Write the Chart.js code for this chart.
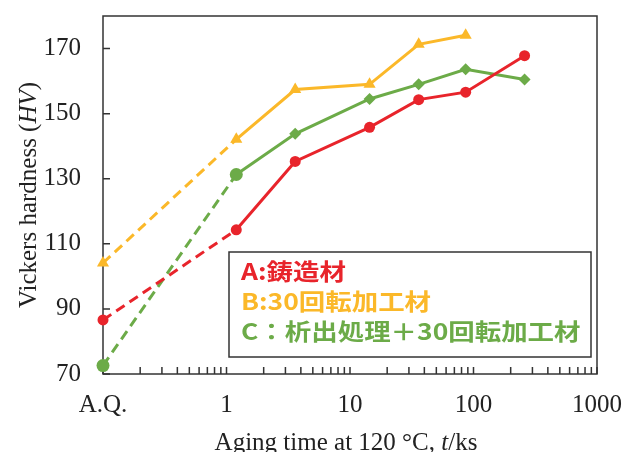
<!DOCTYPE html>
<html>
<head>
<meta charset="utf-8">
<script src="https://cdn.jsdelivr.net/npm/chart.js@4/dist/chart.umd.min.js"></script>
<style>
  html, body { margin: 0; padding: 0; background: #fff; overflow: hidden; }
</style>
</head>
<body>
<canvas id="hv" width="622" height="452"></canvas>
<script>
// aging time in ks; 0.1 is where the as-quenched (A.Q.) state is plotted
const agingTimes = [0.1, 1.2, 3.6, 14.4, 36, 86.4, 259.2];
const hvCast = [86.6, 114.3, 135.3, 145.8, 154.3, 156.6, 167.8];
const hvRotary = [104.1, 142.1, 157.4, 159.0, 171.3, 174.1];
const hvAgedRotary = [72.6, 131.3, 143.8, 154.5, 159.0, 163.6, 160.5];

const seriesNames = ['A:鋳造材', 'B:30回転加工材', 'C：析出処理＋30回転加工材'];
const seriesColors = ['#e8242b', '#fbb829', '#6cab48'];

const xTickValues = [0.1, 0.2, 0.3, 0.4, 0.5, 0.6, 0.7, 0.8, 0.9,
  1, 2, 3, 4, 5, 6, 7, 8, 9,
  10, 20, 30, 40, 50, 60, 70, 80, 90,
  100, 200, 300, 400, 500, 600, 700, 800, 900, 1000];
const xLabelValues = [0.1, 1, 10, 100, 1000];
const xLabelTexts = ['A.Q.', '1', '10', '100', '1000'];
const yLabelValues = [70, 90, 110, 130, 150, 170];

const serif = "'Liberation Serif', 'Times New Roman', serif";
const toPoints = vals => vals.map((v, i) => ({ x: agingTimes[i], y: v }));
// A.Q. -> first aging step is drawn dashed
const dashFirst = { borderDash: c => c.p0DataIndex === 0 ? [10, 6] : undefined };

// frame and inward ticks
const framePlugin = {
  id: 'frame',
  beforeDatasetsDraw(chart) {
    const { ctx, chartArea: a, scales: { x, y } } = chart;
    ctx.save();
    ctx.strokeStyle = '#333';
    ctx.lineWidth = 1.5;
    ctx.strokeRect(a.left, a.top, a.right - a.left, a.bottom - a.top);
    ctx.beginPath();
    y.ticks.forEach(t => {
      const py = y.getPixelForValue(t.value);
      ctx.moveTo(a.left, py);
      ctx.lineTo(a.left + 7, py);
    });
    x.ticks.forEach(t => {
      const px = x.getPixelForValue(t.value);
      ctx.moveTo(px, a.bottom);
      ctx.lineTo(px, a.bottom - 7);
    });
    ctx.stroke();
    ctx.restore();
  }
};

// draws text made of runs with different font styles
function drawRuns(ctx, runs, size, cx, cy) {
  const widths = runs.map(r => {
    ctx.font = (r.italic ? 'italic ' : '') + size + 'px ' + serif;
    return ctx.measureText(r.text).width;
  });
  let pos = cx - widths.reduce((s, w) => s + w, 0) / 2;
  runs.forEach((r, i) => {
    ctx.font = (r.italic ? 'italic ' : '') + size + 'px ' + serif;
    ctx.fillText(r.text, pos, cy);
    pos += widths[i];
  });
}

const titlesPlugin = {
  id: 'titles',
  afterDraw(chart) {
    const { ctx } = chart;
    ctx.save();
    ctx.fillStyle = '#222';
    ctx.textAlign = 'left';
    ctx.textBaseline = 'alphabetic';
    drawRuns(ctx, [{ text: 'Aging time at 120 °C, ' }, { text: 't', italic: true }, { text: '/ks' }], 25, 346, 450);
    ctx.translate(36, 195);
    ctx.rotate(-Math.PI / 2);
    drawRuns(ctx, [{ text: 'Vickers hardness (' }, { text: 'HV', italic: true }, { text: ')' }], 25, 0, 0);
    ctx.restore();
  }
};

const legendPlugin = {
  id: 'boxLegend',
  afterDatasetsDraw(chart) {
    const { ctx } = chart;
    ctx.save();
    ctx.fillStyle = '#fff';
    ctx.fillRect(229, 252, 362, 105);
    ctx.strokeStyle = '#333';
    ctx.lineWidth = 1.5;
    ctx.strokeRect(229, 252, 362, 105);
    ctx.font = "bold 23px 'Noto Sans CJK JP', sans-serif";
    ctx.textBaseline = 'alphabetic';
    const baselines = [280, 310, 340];
    seriesNames.forEach((name, i) => {
      ctx.save();
      ctx.translate(241, baselines[i]);
      ctx.scale(1.15, 1);
      ctx.fillStyle = seriesColors[i];
      ctx.fillText(name, 0, 0);
      ctx.restore();
    });
    ctx.restore();
  }
};

new Chart(document.getElementById('hv'), {
  type: 'line',
  data: {
    datasets: [
      {
        label: seriesNames[0],
        data: toPoints(hvCast),
        borderColor: seriesColors[0],
        backgroundColor: seriesColors[0],
        borderWidth: 3,
        pointStyle: 'circle',
        pointRadius: 5.5,
        pointBorderWidth: 0,
        segment: dashFirst,
        clip: false,
      },
      {
        label: seriesNames[1],
        data: toPoints(hvRotary),
        borderColor: seriesColors[1],
        backgroundColor: seriesColors[1],
        borderWidth: 3,
        pointStyle: 'triangle',
        pointRadius: 7,
        pointBorderWidth: 0,
        segment: dashFirst,
        clip: false,
      },
      {
        label: seriesNames[2],
        data: toPoints(hvAgedRotary),
        borderColor: seriesColors[2],
        backgroundColor: seriesColors[2],
        borderWidth: 3,
        pointStyle: ['circle', 'circle', 'rectRot', 'rectRot', 'rectRot', 'rectRot', 'rectRot'],
        pointRadius: [6.5, 6.5, 6, 6, 6, 6, 6],
        pointBorderWidth: 0,
        segment: dashFirst,
        clip: false,
      },
    ],
  },
  options: {
    responsive: false,
    animation: false,
    layout: { padding: { top: 16, right: 25, left: 0, bottom: 0 } },
    plugins: {
      legend: { display: false },
      tooltip: { enabled: false },
    },
    scales: {
      x: {
        type: 'logarithmic',
        min: 0.1,
        max: 1000,
        grid: { display: false, drawTicks: false },
        border: { display: false },
        afterBuildTicks: scale => {
          scale.ticks = xTickValues.map(v => ({ value: v }));
        },
        afterFit: scale => {
          scale.height = 78;
          scale.paddingLeft = 0;
          scale.paddingRight = 0;
        },
        ticks: {
          autoSkip: false,
          maxRotation: 0,
          padding: 16,
          color: '#222',
          font: { family: serif, size: 25 },
          callback: v => {
            const i = xLabelValues.indexOf(v);
            return i >= 0 ? xLabelTexts[i] : '';
          },
        },
      },
      y: {
        min: 70,
        max: 180,
        grid: { display: false, drawTicks: false },
        border: { display: false },
        afterFit: scale => {
          scale.width = 103;
          scale.paddingTop = 0;
          scale.paddingBottom = 0;
        },
        ticks: {
          stepSize: 10,
          padding: 22,
          color: '#222',
          font: { family: serif, size: 25 },
          callback: v => yLabelValues.includes(v) ? String(v) : '',
        },
      },
    },
  },
  plugins: [framePlugin, legendPlugin, titlesPlugin],
});
</script>
</body>
</html>
